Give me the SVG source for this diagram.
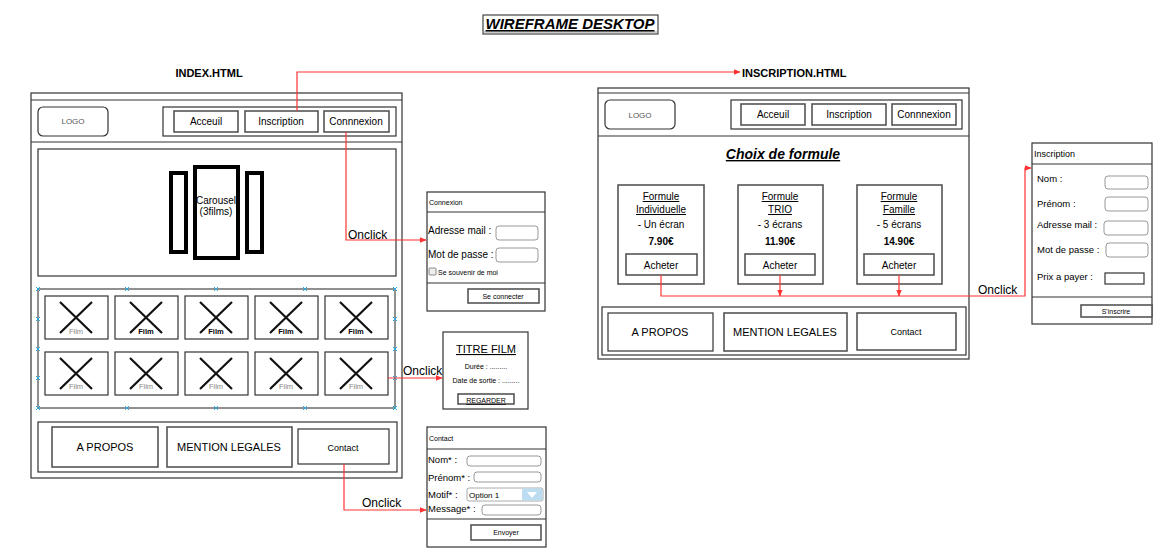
<svg xmlns="http://www.w3.org/2000/svg" width="1166" height="553" viewBox="0 0 1166 553">
<defs>
<style>
text{font-family:"Liberation Sans",Arial,sans-serif;fill:#000}
.frame{fill:#fff;stroke:#333;stroke-width:1.2}
.box{fill:#fff;stroke:#333;stroke-width:1.2}
.btn{fill:#fff;stroke:#555;stroke-width:1.6}
.inp{fill:#fff;stroke:#999;stroke-width:1}
.thick{fill:#fff;stroke:#000;stroke-width:4}
.xl{stroke:#111;stroke-width:2.2}
.wire{fill:none;stroke:#f33;stroke-width:1.2}
.c{text-anchor:middle}
.t10{font-size:10px}
.t95{font-size:9.5px}
.t9{font-size:9px}
.t11{font-size:11px}
.t8{font-size:8px}
.t7{font-size:7px}
.gray{fill:#555}
.film{font-size:7.5px;text-anchor:middle;fill:#888}
.filmb{font-size:7.5px;text-anchor:middle;font-weight:bold;fill:#000}
.mk{stroke:#29a8e0;stroke-width:1}
</style>
<marker id="arr" viewBox="0 0 10 10" refX="9" refY="5" markerWidth="7" markerHeight="7" orient="auto" markerUnits="userSpaceOnUse">
<path d="M0,1 L10,5 L0,9 z" fill="#f33"/>
</marker>
<g id="xm"><path d="M-2,-2 L2,2 M-2,2 L2,-2" class="mk"/></g>
<g id="cell"><rect x="0" y="0" width="63" height="43" class="box"/><path d="M15,6 L47,37 M47,6 L15,37" class="xl"/></g>
</defs>
<rect width="1166" height="553" fill="#fff"/>

<g id="title">
<rect x="483" y="15" width="175" height="19" fill="#fff" stroke="#444" stroke-width="1.2"/>
<line x1="484" y1="32" x2="657" y2="32" stroke="#999" stroke-width="1"/>
<text x="570" y="29" class="c" font-size="15" font-weight="bold" font-style="italic" text-decoration="underline">WIREFRAME DESKTOP</text>
</g>

<!-- INDEX PAGE -->
<g id="index-page">
<text x="209" y="77" class="c t11" font-weight="bold">INDEX.HTML</text>
<rect x="31" y="93" width="371" height="385" class="frame"/>
<line x1="31" y1="100" x2="402" y2="100" stroke="#333" stroke-width="1.2"/>
<line x1="31" y1="142" x2="402" y2="142" stroke="#333" stroke-width="1.2"/>
</g>
<g id="index-logo">
<rect x="38" y="107" width="70" height="29" rx="5" class="box"/>
<text x="73" y="124" class="c t8 gray">LOGO</text>
</g>
<g id="index-nav">
<rect x="163" y="107" width="233" height="29" class="box"/>
<rect x="174" y="111" width="64" height="21" class="btn"/>
<text x="206" y="125" class="c t10">Acceuil</text>
<rect x="245" y="111" width="73" height="21" class="btn"/>
<text x="281" y="125" class="c t10">Inscription</text>
<rect x="324" y="111" width="65" height="21" class="btn"/>
<text x="356" y="125" class="c t10">Connnexion</text>
</g>
<g id="index-carousel">
<rect x="38" y="149" width="358" height="127" class="box"/>
<rect x="171" y="173" width="15" height="79" class="thick"/>
<rect x="195" y="167" width="43" height="91" class="thick"/>
<rect x="247" y="173" width="15" height="79" class="thick"/>
<text x="216" y="204" class="c t10">Carousel</text>
<text x="216" y="215" class="c t10">(3films)</text>
</g>
<g id="index-films">
<rect x="38" y="289" width="357" height="119" fill="none" stroke="#222" stroke-width="1"/>
<use href="#xm" x="38" y="289"/><use href="#xm" x="127" y="289"/><use href="#xm" x="216" y="289"/><use href="#xm" x="305" y="289"/><use href="#xm" x="395" y="289"/>
<use href="#xm" x="38" y="408"/><use href="#xm" x="127" y="408"/><use href="#xm" x="216" y="408"/><use href="#xm" x="305" y="408"/><use href="#xm" x="395" y="408"/>
<use href="#xm" x="38" y="319"/><use href="#xm" x="38" y="349"/><use href="#xm" x="38" y="378"/>
<use href="#xm" x="395" y="319"/><use href="#xm" x="395" y="349"/><use href="#xm" x="395" y="378"/>
<use href="#cell" x="45" y="296"/><use href="#cell" x="115" y="296"/><use href="#cell" x="185" y="296"/><use href="#cell" x="255" y="296"/><use href="#cell" x="325" y="296"/>
<use href="#cell" x="45" y="352"/><use href="#cell" x="115" y="352"/><use href="#cell" x="185" y="352"/><use href="#cell" x="255" y="352"/><use href="#cell" x="325" y="352"/>
<text x="76" y="334" class="film">Film</text>
<text x="146" y="334" class="filmb">Film</text>
<text x="216" y="334" class="filmb">Film</text>
<text x="286" y="334" class="filmb">Film</text>
<text x="356" y="334" class="filmb">Film</text>
<text x="76" y="389" class="film">Film</text>
<text x="146" y="389" class="film">Film</text>
<text x="216" y="389" class="film">Film</text>
<text x="286" y="389" class="film">Film</text>
<text x="356" y="389" class="film">Film</text>
</g>
<g id="index-footer">
<rect x="38" y="422" width="359" height="50" class="box"/>
<rect x="52" y="427" width="106" height="40" class="btn"/>
<text x="105" y="451" class="c t11">A PROPOS</text>
<rect x="167" y="427" width="125" height="40" class="btn"/>
<text x="229" y="451" class="c t11">MENTION LEGALES</text>
<rect x="298" y="429" width="91" height="35" class="box"/>
<text x="343" y="451" class="c t9">Contact</text>
</g>

<!-- Connexion popup -->
<g id="connexion-form">
<rect x="427" y="192" width="118" height="119" class="box"/>
<line x1="427" y1="212" x2="545" y2="212" stroke="#333" stroke-width="1.2"/>
<text x="429" y="205" class="t7" fill="#333">Connexion</text>
<text x="428" y="234" class="t10">Adresse mail :</text>
<rect x="496" y="226" width="42" height="14" rx="3" class="inp"/>
<text x="428" y="258" class="t10">Mot de passe :</text>
<rect x="496" y="248" width="42" height="14" rx="3" class="inp"/>
<rect x="429" y="268" width="7" height="7" rx="1" fill="#eee" stroke="#888"/>
<text x="438" y="275" class="t7" fill="#444">Se souvenir de moi</text>
<line x1="427" y1="283" x2="545" y2="283" stroke="#333" stroke-width="1.2"/>
<rect x="468" y="289" width="71" height="14" class="btn"/>
<text x="503" y="299" class="c t7" fill="#333">Se connecter</text>
</g>

<!-- Film popup -->
<g id="film-popup">
<rect x="443" y="332" width="85" height="77" class="box"/>
<text x="486" y="353" class="c t11" text-decoration="underline">TITRE FILM</text>
<text x="486" y="369" class="c t7" fill="#333">Durée : .........</text>
<text x="486" y="383" class="c t7" fill="#333">Date de sortie : .........</text>
<rect x="458" y="394" width="56" height="10" class="btn"/>
<text x="486" y="403" class="c t7" fill="#444" text-decoration="underline">REGARDER</text>
</g>

<!-- Contact popup -->
<g id="contact-form">
<rect x="427" y="427" width="119" height="120" class="box"/>
<line x1="427" y1="449" x2="546" y2="449" stroke="#333" stroke-width="1.2"/>
<text x="429" y="441" class="t7" fill="#333">Contact</text>
<text x="428" y="463" class="t95">Nom* :</text>
<rect x="467" y="456" width="74" height="10" rx="3" class="inp"/>
<text x="428" y="481" class="t95">Prénom* :</text>
<rect x="474" y="472" width="67" height="10" rx="3" class="inp"/>
<text x="428" y="498" class="t95">Motif* :</text>
<rect x="467" y="488" width="76" height="13" rx="2" fill="#fff" stroke="#aaa"/>
<rect x="522" y="488.5" width="20.5" height="12" rx="2" fill="#bcdcf2"/>
<path d="M527,492 L537,492 L532,498 z" fill="#fff"/>
<text x="469" y="498" class="t8" fill="#aaa">Option 1</text>
<text x="428" y="512" class="t95">Message* :</text>
<rect x="482" y="505" width="59" height="10" rx="3" class="inp"/>
<line x1="427" y1="519" x2="546" y2="519" stroke="#333" stroke-width="1.2"/>
<rect x="471" y="525" width="70" height="15" class="btn"/>
<text x="506" y="535" class="c t7" fill="#333">Envoyer</text>
</g>

<!-- INSCRIPTION PAGE -->
<g id="inscription-page">
<text x="742" y="77" class="t11" font-weight="bold">INSCRIPTION.HTML</text>
<rect x="598" y="88" width="371" height="271" class="frame"/>
<line x1="598" y1="93" x2="969" y2="93" stroke="#333" stroke-width="1.2"/>
<line x1="598" y1="136" x2="969" y2="136" stroke="#333" stroke-width="1.2"/>
<text x="783" y="159" class="c" font-size="14" font-weight="bold" font-style="italic" text-decoration="underline">Choix de formule</text>
</g>
<g id="ins-logo">
<rect x="605" y="100" width="70" height="29" rx="5" class="box"/>
<text x="640" y="118" class="c t8 gray">LOGO</text>
</g>
<g id="ins-nav">
<rect x="731" y="100" width="231" height="29" class="box"/>
<rect x="741" y="104" width="64" height="21" class="btn"/>
<text x="773" y="118" class="c t10">Acceuil</text>
<rect x="812" y="104" width="74" height="21" class="btn"/>
<text x="849" y="118" class="c t10">Inscription</text>
<rect x="892" y="104" width="64" height="21" class="btn"/>
<text x="924" y="118" class="c t10">Connnexion</text>
</g>
<g id="formule-individuelle">
<rect x="618" y="185" width="86" height="99" class="btn"/>
<text x="661" y="200" class="c t10" text-decoration="underline">Formule</text>
<text x="661" y="213" class="c t10" text-decoration="underline">Individuelle</text>
<text x="661" y="228" class="c t10">- Un écran</text>
<text x="661" y="245" class="c t10" font-weight="bold">7.90€</text>
<rect x="626" y="254" width="71" height="21" class="btn"/>
<text x="661" y="269" class="c t10">Acheter</text>
</g>
<g id="formule-trio">
<rect x="738" y="185" width="85" height="99" class="btn"/>
<text x="780" y="200" class="c t10" text-decoration="underline">Formule</text>
<text x="780" y="213" class="c t10" text-decoration="underline">TRIO</text>
<text x="780" y="228" class="c t10">- 3 écrans</text>
<text x="780" y="245" class="c t10" font-weight="bold">11.90€</text>
<rect x="745" y="254" width="70" height="21" class="btn"/>
<text x="780" y="269" class="c t10">Acheter</text>
</g>
<g id="formule-famille">
<rect x="857" y="185" width="85" height="99" class="btn"/>
<text x="899" y="200" class="c t10" text-decoration="underline">Formule</text>
<text x="899" y="213" class="c t10" text-decoration="underline">Famille</text>
<text x="899" y="228" class="c t10">- 5 écrans</text>
<text x="899" y="245" class="c t10" font-weight="bold">14.90€</text>
<rect x="864" y="254" width="70" height="21" class="btn"/>
<text x="899" y="269" class="c t10">Acheter</text>
</g>
<g id="ins-footer">
<rect x="602" y="307" width="364" height="48" class="box"/>
<rect x="608" y="313" width="105" height="38" class="box"/>
<text x="660" y="336" class="c t11">A PROPOS</text>
<rect x="724" y="313" width="123" height="38" class="btn"/>
<text x="785" y="336" class="c t11">MENTION LEGALES</text>
<rect x="857" y="313" width="99" height="37" class="btn"/>
<text x="906" y="335" class="c t9">Contact</text>
</g>

<!-- Inscription form -->
<g id="inscription-form">
<rect x="1032" y="143" width="120" height="181" class="box"/>
<line x1="1032" y1="164" x2="1152" y2="164" stroke="#333" stroke-width="1.2"/>
<text x="1034" y="157" class="t9" fill="#333">Inscription</text>
<text x="1037" y="182" class="t95">Nom :</text>
<rect x="1105" y="176" width="43" height="13" rx="3" class="inp"/>
<text x="1037" y="207" class="t95">Prénom :</text>
<rect x="1105" y="197" width="43" height="14" rx="3" class="inp"/>
<text x="1037" y="228" class="t95">Adresse mail :</text>
<rect x="1104" y="221" width="44" height="14" rx="3" class="inp"/>
<text x="1037" y="253" class="t95">Mot de passe :</text>
<rect x="1106" y="243" width="42" height="14" rx="3" class="inp"/>
<text x="1037" y="280" class="t95">Prix a payer :</text>
<rect x="1105" y="273" width="39" height="11" fill="#fff" stroke="#333" stroke-width="1.2"/>
<line x1="1032" y1="297" x2="1152" y2="297" stroke="#333" stroke-width="1.2"/>
<rect x="1081" y="305" width="71" height="12" class="btn"/>
<text x="1116" y="314" class="c t7" fill="#333">S'inscrire</text>
</g>

<!-- Connectors -->
<g id="connectors">
<path d="M297,111 L297,72 L740,72" class="wire" marker-end="url(#arr)"/>
<path d="M346,132 L346,240 L426,240" class="wire" marker-end="url(#arr)"/>
<text x="348" y="239" font-size="12">Onclick</text>
<path d="M388,378 L442,378" class="wire" marker-end="url(#arr)"/>
<text x="403" y="375" font-size="12">Onclick</text>
<path d="M344,464 L344,510 L426,510" class="wire" marker-end="url(#arr)"/>
<text x="362" y="507" font-size="12">Onclick</text>
<path d="M661,275 L661,296 L1025,296 L1025,168 L1031,168" class="wire" marker-end="url(#arr)"/>
<path d="M780,275 L780,296" class="wire" marker-end="url(#arr)"/>
<path d="M899,275 L899,296" class="wire" marker-end="url(#arr)"/>
<text x="978" y="294" font-size="12">Onclick</text>
</g>
</svg>
